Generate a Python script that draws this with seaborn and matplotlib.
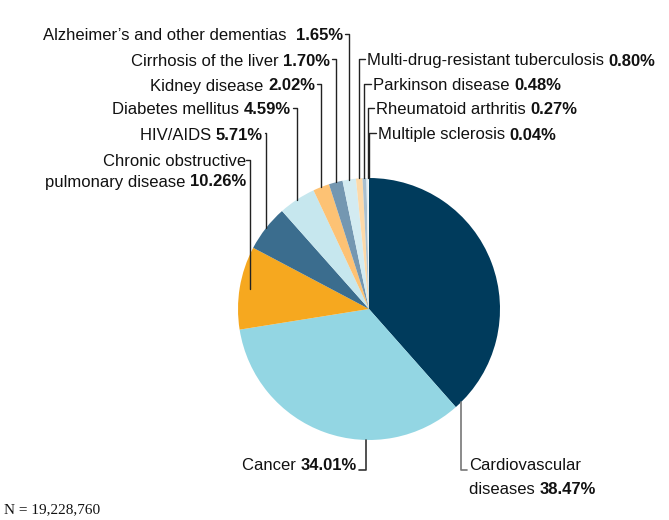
import numpy as np
import matplotlib
matplotlib.use("Agg")
import matplotlib.pyplot as plt
import seaborn as sns

sns.set_theme(style="white")
plt.rcParams['font.family'] = ['Liberation Sans', 'DejaVu Sans']

causes = ["Cardiovascular diseases",
          "Cancer",
          "Chronic obstructive pulmonary disease",
          "HIV/AIDS",
          "Diabetes mellitus",
          "Kidney disease",
          "Cirrhosis of the liver",
          "Alzheimer’s and other dementias",
          "Multi-drug-resistant tuberculosis",
          "Parkinson disease",
          "Rheumatoid arthritis",
          "Multiple sclerosis"]
shares = [38.47, 34.01, 10.26, 5.71, 4.59, 2.02, 1.70, 1.65, 0.80, 0.48, 0.27, 0.04]
values = ["38.47%", "34.01%", "10.26%", "5.71%", "4.59%", "2.02%",
          "1.70%", "1.65%", "0.80%", "0.48%", "0.27%", "0.04%"]
colors = ["#003b5c", "#93d6e3", "#f6a81f", "#3b6d8e", "#c6e7ee", "#fdc274",
          "#7497b1", "#d3ebf1", "#fdd9a8", "#a9c0d0", "#e3eff3", "#f3f8fa"]

# label text lines (last line gets the bold value)
label_lines = [["Cardiovascular", "diseases "],
               ["Cancer "],
               ["Chronic obstructive", "pulmonary disease "],
               ["HIV/AIDS "],
               ["Diabetes mellitus "],
               ["Kidney disease "],
               ["Cirrhosis of the liver "],
               ["Alzheimer’s and other dementias  "],
               ["Multi-drug-resistant tuberculosis "],
               ["Parkinson disease "],
               ["Rheumatoid arthritis "],
               ["Multiple sclerosis "]]

W, H = 669, 520
fig = plt.figure(figsize=(W / 100, H / 100), dpi=100)
ax = fig.add_axes([0, 0, 1, 1])

cx, cy, r = 369, H - 309, 131
wedges, _ = ax.pie(shares, colors=colors, startangle=90, counterclock=False,
                   center=(cx, cy), radius=r,
                   wedgeprops=dict(linewidth=0))
ax.set_xlim(0, W)
ax.set_ylim(0, H)
ax.set_aspect('equal')
ax.axis('off')

fig.canvas.draw()
renderer = fig.canvas.get_renderer()
fs = 12


def width(t):
    return t.get_window_extent(renderer).width


def put_label(i, x, ys, side):
    # ys: pixel rows from top for each line, side: 'right' text ends at x
    lines = label_lines[i]
    for k, (line, yp) in enumerate(zip(lines, ys)):
        y = H - yp
        last = k == len(lines) - 1
        if side == 'left':
            t = ax.text(x, y, line, ha='left', va='center', fontsize=fs, color='#111')
            if last:
                fig.canvas.draw()
                ax.text(x + width(t), y, values[i], ha='left', va='center',
                        fontsize=fs, fontweight='bold', color='#111')
        else:
            if last:
                tv = ax.text(x, y, values[i], ha='right', va='center',
                             fontsize=fs, fontweight='bold', color='#111')
                fig.canvas.draw()
                ax.text(x - width(tv), y, line, ha='right', va='center',
                        fontsize=fs, color='#111')
            else:
                ax.text(x, y, line, ha='right', va='center', fontsize=fs, color='#111')


def mid_point(i, k=1.0):
    w = wedges[i]
    a = np.deg2rad((w.theta1 + w.theta2) / 2)
    return cx + k * r * np.cos(a), cy + k * r * np.sin(a)


lc = '#222222'
# left-top labels: (index, text row, text end x)
top_left = [(7, 36, 343), (6, 61, 330), (5, 86, 315), (4, 110, 291), (3, 135, 263)]
for i, yp, xe in top_left:
    px, py = mid_point(i)
    put_label(i, xe, [yp], 'right')
    ax.plot([xe + 2, px, px], [H - yp + 2, H - yp + 2, py], color=lc, lw=1)

# COPD: two lines, leader points inside the wedge
px, py = mid_point(2, 0.92)
put_label(2, 246, [162, 182], 'right')
ax.plot([246, px, px], [H - 160, H - 160, py], color=lc, lw=1)

# right-top labels
top_right = [(8, 61, 367), (9, 86, 373), (10, 110, 376), (11, 135, 378)]
for i, yp, xs in top_right:
    px, py = mid_point(i)
    put_label(i, xs, [yp], 'left')
    ax.plot([xs - 2, px, px], [H - yp + 2, H - yp + 2, py], color=lc, lw=1)

# Cancer label below the pie
put_label(1, 357, [466], 'right')
bx = cx - 3
by = cy - np.sqrt(r ** 2 - (bx - cx) ** 2)
ax.plot([bx, bx, 359], [by, H - 470, H - 470], color='#333333', lw=1.2)

# Cardiovascular label at the wedge boundary
a = np.deg2rad(wedges[0].theta1 + 3)
ex, ey = cx + r * np.cos(a), cy + r * np.sin(a)
put_label(0, 469, [466, 489], 'left')
ax.plot([ex, ex, 467], [ey, H - 470, H - 470], color='#777777', lw=1.2)

ax.text(4, H - 510, "N = 19,228,760", ha='left', va='center', fontsize=11,
        family=['Liberation Serif', 'DejaVu Serif'], color='#111')

fig.savefig("out.png", dpi=100)
